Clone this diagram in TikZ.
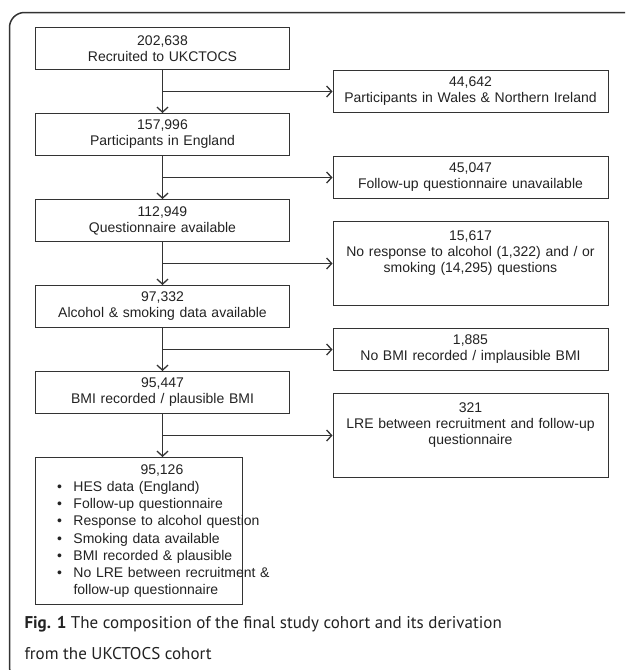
\documentclass[tikz,border=0pt]{standalone}
\usepackage{fontspec}
\setmainfont{Liberation Sans}
\newfontfamily\capfont{PT Sans}
\usetikzlibrary{arrows.meta,positioning,calc}
\definecolor{ink}{HTML}{222222}
\definecolor{rule}{HTML}{333333}

\begin{document}
\begin{tikzpicture}[x=1pt,y=-1pt,
  font=\fontsize{14}{16}\selectfont,
  every node/.style={align=center,text=ink},
  node distance=43pt,
  stage/.style={draw=rule,line width=1pt,minimum width=254pt,minimum height=42pt,inner sep=0pt,text width=250pt},
  excl/.style={stage,minimum width=275pt,text width=270pt},
  tallexcl/.style={excl,minimum height=84pt,inner ysep=9pt},
  cohort/.style={stage,minimum width=207pt,minimum height=147pt,text width=207pt,align=left},
  flow/.style={-{Straight Barb[length=5pt,width=11pt]},line width=1.3pt,draw=rule},
  frame/.style={draw=rule,line width=1.5pt,rounded corners=15pt}]

  \useasboundingbox (0,0) rectangle (625,670);
  \begin{scope}
    \clip (0,0) rectangle (625,670);
    \draw[frame] (9.5,12.5) rectangle (640,682);
  \end{scope}

  % main column
  \node[stage,anchor=north west] (rec) at (35,27) {202,638\\Recruited to UKCTOCS};
  \node[stage,below=of rec] (eng) {157,996\\Participants in England};
  \node[stage,below=of eng] (quest) {112,949\\Questionnaire available};
  \node[stage,below=of quest] (alcsmk) {97,332\\Alcohol \& smoking data available};
  \node[stage,below=of alcsmk] (bmi) {95,447\\BMI recorded / plausible BMI};
  \node[cohort,below=of bmi.south west,anchor=north west] (final) {%
    \fontsize{14}{17.2}\selectfont
    \begin{tabular}{@{\hspace{21.5pt}}l@{\hspace{11.6pt}}l@{}}
      \multicolumn{2}{@{\hspace{105pt}}l}{95,126}\\
      \textbullet & HES data (England)\\
      \textbullet & Follow-up questionnaire\\
      \textbullet & Response to alcohol question\\
      \textbullet & Smoking data available\\
      \textbullet & BMI recorded \& plausible\\
      \textbullet & No LRE between recruitment \&\\
                  & follow-up questionnaire
    \end{tabular}};

  % junctions
  \coordinate (j1) at ($(rec.south)!.5!(eng.north)$);
  \coordinate (j2) at ($(eng.south)!.5!(quest.north)$);
  \coordinate (j3) at ($(quest.south)!.5!(alcsmk.north)$);
  \coordinate (j4) at ($(alcsmk.south)!.5!(bmi.north)$);
  \coordinate (j5) at ($(bmi.south)!.5!(bmi.south |- final.north)$);

  % exclusions
  \node[excl,right=170pt of j1] (wales) {44,642\\Participants in Wales \& Northern Ireland};
  \node[excl,right=170pt of j2] (nofu) {45,047\\Follow-up questionnaire unavailable};
  \node[tallexcl,right=170pt of j3] (noresp) {\parbox[c][66pt][t]{270pt}{\centering
    15,617\\No response to alcohol (1,322) and / or\\smoking (14,295) questions}};
  \node[excl,right=170pt of j4] (nobmi) {1,885\\No BMI recorded / implausible BMI};
  \node[tallexcl,right=170pt of j5] (lre) {\parbox[c][66pt][t]{270pt}{\centering
    321\\LRE between recruitment and follow-up\\questionnaire}};

  \draw[flow] (rec) -- (eng);
  \draw[flow] (eng) -- (quest);
  \draw[flow] (quest) -- (alcsmk);
  \draw[flow] (alcsmk) -- (bmi);
  \draw[flow] (bmi) -- (bmi |- final.north);
  \draw[flow] (j1) -- (wales);
  \draw[flow] (j2) -- (nofu);
  \draw[flow] (j3) -- (noresp);
  \draw[flow] (j4) -- (nobmi);
  \draw[flow] (j5) -- (lre);

  \node[anchor=base west,align=left,font=\capfont\fontsize{17}{31}\selectfont] (caption) at (21,659)
    {\textbf{Fig. 1} The composition of the final study cohort and its derivation\\from the UKCTOCS cohort};
\end{tikzpicture}
\end{document}
